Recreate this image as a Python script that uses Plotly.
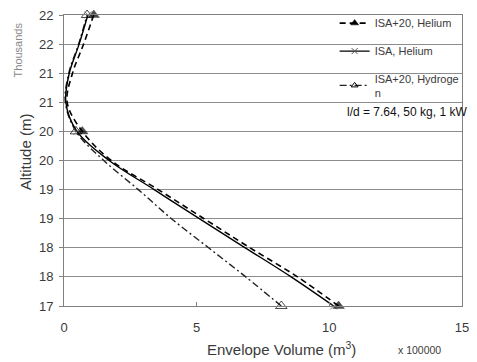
import plotly.graph_objects as go

# Data (altitude in m, envelope volume in m^3)
altitude = [17000, 17500, 18000, 18500, 19000, 19500, 20000, 20500, 21000, 21500, 22000]
vol_isa20_he = [1035000, 880000, 701000, 528000, 355000, 178000, 69000, 12000, 32000, 74000, 112000]
vol_isa_he = [1016000, 856000, 683000, 510000, 340000, 170000, 49000, 7000, 20000, 57000, 90000]
vol_isa20_h2 = [819000, 685000, 545000, 405000, 280000, 150000, 45000, 5000, 18000, 55000, 87000]
marker_altitudes = [17000, 20000, 22000]

alt_ticks = [17000, 17500, 18000, 18500, 19000, 19500, 20000, 20500, 21000, 21500, 22000]
alt_labels = ["17", "18", "18", "19", "19", "20", "20", "21", "21", "22", "22"]
vol_ticks = [0, 500000, 1000000, 1500000]
vol_labels = ["0", "5", "10", "15"]

FONT = "Liberation Sans, Arial, sans-serif"
TXT = "#3a3a3a"


def sizes(s):
    return [s if a in marker_altitudes else 0 for a in altitude]


series = [
    dict(name="ISA+20, Helium", x=vol_isa20_he,
         line=dict(color="black", width=1.6, dash="6px,4px"),
         marker=dict(symbol="triangle-up", color="black", line=dict(width=0.5, color="black")),
         ms=10, lms=7),
    dict(name="ISA, Helium", x=vol_isa_he,
         line=dict(color="black", width=1.4),
         marker=dict(symbol="x-thin-open", color="#555", line=dict(width=1, color="#555")),
         ms=7, lms=6),
    dict(name="ISA+20, Hydroge<br>n", x=vol_isa20_h2,
         line=dict(color="#222", width=1.4, dash="7px,3px,2px,3px"),
         marker=dict(symbol="triangle-up-open", color="black", line=dict(width=1, color="black")),
         ms=10, lms=6),
]

fig = go.Figure()
# data traces drawn bottom-up so the filled triangles sit on top
for s in reversed(series):
    line = dict(s["line"], shape="spline", smoothing=1.0)
    fig.add_trace(go.Scatter(
        x=s["x"], y=altitude, mode="lines+markers", showlegend=False, cliponaxis=False,
        line=line, marker=dict(s["marker"], size=sizes(s["ms"]))))
# legend entries
for i, s in enumerate(series):
    fig.add_trace(go.Scatter(
        x=[None], y=[None], name=s["name"], mode="lines+markers",
        line=s["line"], marker=dict(s["marker"], size=s["lms"]),
        legendgroup="g%d" % i))

fig.update_layout(
    width=477, height=362,
    margin=dict(l=64, r=8, t=12, b=56),
    paper_bgcolor="white", plot_bgcolor="white",
    font=dict(family=FONT, size=12, color=TXT),
    showlegend=True,
    legend=dict(x=0.68, y=1.022, xanchor="left", yanchor="top",
                bgcolor="rgba(0,0,0,0)", font=dict(size=11, color=TXT),
                traceorder="grouped", tracegroupgap=9),
)
fig.update_xaxes(
    range=[0, 1500000], tickvals=vol_ticks, ticktext=vol_labels,
    showgrid=False, showline=True, linecolor="#808080", linewidth=1, mirror=True,
    ticks="inside", ticklen=4, tickcolor="#808080",
    tickfont=dict(size=13, color=TXT), ticklabelstandoff=9, zeroline=False)
fig.update_yaxes(
    range=[17000, 22000], tickvals=alt_ticks, ticktext=alt_labels,
    showgrid=True, gridcolor="#8c8c8c", gridwidth=1,
    showline=True, linecolor="#808080", linewidth=1, mirror=True,
    ticks="outside", ticklen=4, tickcolor="#808080",
    tickfont=dict(size=13, color=TXT), ticklabelstandoff=3, zeroline=False)


def px_x(p):
    return (p - 64) / 405


def px_y(p):
    return (306 - p) / 294


fig.add_annotation(text="Envelope Volume (m<sup>3</sup>)", xref="paper", yref="paper",
                   x=px_x(285), y=px_y(349), xanchor="center", yanchor="middle", showarrow=False,
                   font=dict(size=15, color=TXT))
fig.add_annotation(text="x 100000", xref="paper", yref="paper",
                   x=px_x(426), y=px_y(350), xanchor="center", yanchor="middle", showarrow=False,
                   font=dict(size=10.5, color=TXT))
fig.add_annotation(text="Altitude (m)", xref="paper", yref="paper",
                   x=px_x(25), y=px_y(150), xanchor="center", yanchor="middle", showarrow=False,
                   textangle=-90, font=dict(size=15, color=TXT))
fig.add_annotation(text="Thousands", xref="paper", yref="paper",
                   x=px_x(17), y=px_y(47), xanchor="center", yanchor="middle", showarrow=False,
                   textangle=-90, font=dict(size=11, color="#888"))
fig.add_annotation(text="l/d = 7.64, 50 kg, 1 kW", xref="paper", yref="paper",
                   x=px_x(476), y=px_y(110), xanchor="right", yanchor="middle", showarrow=False,
                   font=dict(size=12, color="#111"))

fig.write_html("out.html", config={"displayModeBar": False},
               post_script="document.body.style.margin='0';")
